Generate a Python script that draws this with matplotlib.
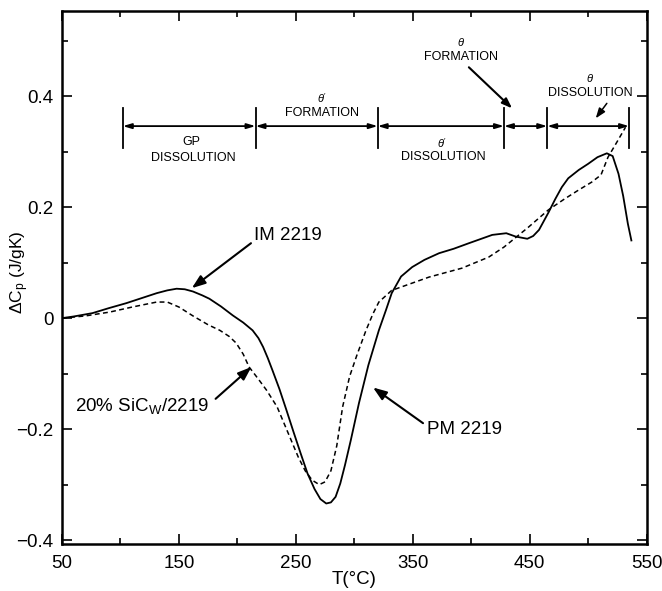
import matplotlib
matplotlib.use("Agg")
import matplotlib.pyplot as plt
from matplotlib.ticker import MultipleLocator

plt.rcParams['font.family'] = ['Liberation Sans', 'DejaVu Sans']
plt.rcParams['mathtext.fontset'] = 'custom'
plt.rcParams['mathtext.rm'] = 'Liberation Sans'
plt.rcParams['mathtext.it'] = 'Liberation Sans:italic'
plt.rcParams['mathtext.bf'] = 'Liberation Sans:bold'

# IM 2219 (solid)
im_T = [50, 60, 76, 90, 105, 118, 131, 140, 148, 155, 162, 170, 176, 186, 196, 205,
        213, 218, 222, 226, 230, 236, 242, 248, 254, 260, 266, 271, 276, 280, 284,
        288, 292, 297, 304, 312, 321, 327, 332, 340, 349.5, 360, 372.5, 385, 398,
        410, 418, 430, 438, 448, 453, 458, 466, 472, 477.5, 483, 492, 500, 508, 516,
        521, 526, 530, 534, 537]
im_cp = [0, 0.003, 0.009, 0.018, 0.027, 0.036, 0.045, 0.050, 0.053, 0.052, 0.048,
         0.041, 0.035, 0.021, 0.005, -0.008, -0.022, -0.036, -0.052, -0.072, -0.094,
         -0.128, -0.166, -0.205, -0.243, -0.280, -0.308, -0.326, -0.334, -0.332,
         -0.322, -0.298, -0.265, -0.220, -0.153, -0.085, -0.022, 0.014, 0.045, 0.075,
         0.092, 0.105, 0.117, 0.125, 0.135, 0.144, 0.150, 0.153, 0.147, 0.143, 0.148,
         0.159, 0.190, 0.215, 0.236, 0.252, 0.267, 0.278, 0.290, 0.297, 0.292, 0.260,
         0.22, 0.17, 0.14]

# 20% SiCw/2219 (dashed)
sic_T = [50, 70, 91, 110, 131, 140, 150, 162, 175, 185, 193, 199, 205, 210, 218, 225,
         234, 240, 246, 252, 258, 264, 270, 275, 280, 285, 290, 296, 302, 310, 316,
         321, 332, 344, 364, 392, 415, 428, 435, 449, 466, 480, 492, 503, 511, 517,
         524, 532]
sic_cp = [0, 0.004, 0.011, 0.020, 0.029, 0.029, 0.020, 0.004, -0.012, -0.022, -0.033,
          -0.045, -0.065, -0.088, -0.110, -0.130, -0.160, -0.190, -0.220, -0.250,
          -0.275, -0.292, -0.300, -0.295, -0.275, -0.230, -0.160, -0.105, -0.068,
          -0.022, 0.008, 0.029, 0.050, 0.059, 0.074, 0.090, 0.110, 0.128, 0.140,
          0.164, 0.195, 0.215, 0.231, 0.245, 0.258, 0.290, 0.315, 0.344]

# Reaction-range bar
bounds = [102, 215.5, 320, 428, 465, 535]
bar_y = 0.346
xticks = [50, 150, 250, 350, 450, 550]
yticks = [-0.4, -0.2, 0, 0.2, 0.4]
ytick_labels = ['\u22120.4', '\u22120.2', '0', '0.2', '0.4']

fig = plt.figure(figsize=(6.62, 5.91), dpi=100)
ax = fig.add_axes([0.0937, 0.0795, 0.883, 0.9015])

ax.plot(im_T, im_cp, color='black', lw=1.3, solid_joinstyle='round')
ax.plot(sic_T, sic_cp, color='black', lw=1.1, linestyle=(0, (3.2, 2.2)))

ax.set_xlim(50, 550)
ax.set_ylim(-0.407, 0.553)
ax.set_xticks(xticks)
ax.xaxis.set_minor_locator(MultipleLocator(50))
ax.set_yticks(yticks)
ax.set_yticklabels(ytick_labels)
ax.yaxis.set_minor_locator(MultipleLocator(0.1))
ax.tick_params(which='both', direction='in', top=True, right=True, labelsize=13.5, width=1.2)
ax.tick_params(which='major', length=7)
ax.tick_params(which='minor', length=4)
ax.tick_params(axis='y', which='major', pad=6)
ax.tick_params(axis='x', which='major', pad=8)
for s in ax.spines.values():
    s.set_linewidth(1.8)

ax.set_xlabel('T(\u00b0C)', fontsize=13.5, labelpad=-1)
ax.set_ylabel(r'$\Delta$C$_\mathrm{p}$ (J/gK)', fontsize=12.5)
ax.yaxis.set_label_coords(-0.053, 0.51)

# bar with ticks and double arrows
for b in bounds:
    ax.plot([b, b], [bar_y - 0.040, bar_y + 0.032], color='black', lw=1.3)
for a, b in zip(bounds[:-1], bounds[1:]):
    ax.annotate('', xy=(b, bar_y), xytext=(a, bar_y),
                arrowprops=dict(arrowstyle='<|-|>,head_length=0.5,head_width=0.15',
                                color='black', lw=1.3, shrinkA=0, shrinkB=0))

lab = dict(ha='center', va='center', fontsize=9)
th = dict(ha='center', va='center', fontsize=8)
ax.text(161, 0.317, 'GP', **lab)
ax.text(162, 0.288, 'DISSOLUTION', **lab)
ax.text(272, 0.396, r"$\theta'$", **th)
ax.text(272, 0.369, 'FORMATION', **lab)
ax.text(375, 0.315, r"$\theta'$", **th)
ax.text(376, 0.290, 'DISSOLUTION', **lab)
ax.text(391, 0.497, r"$\theta$", **th)
ax.text(391, 0.470, 'FORMATION', **lab)
ax.text(502, 0.432, r"$\theta$", **th)
ax.text(502, 0.405, 'DISSOLUTION', **lab)

arr = dict(arrowstyle='-|>,head_length=0.6,head_width=0.22', color='black', lw=1.5,
           shrinkA=0, shrinkB=0)
ax.annotate('', xy=(435, 0.378), xytext=(398, 0.452), arrowprops=arr)
ax.annotate('', xy=(506.5, 0.36), xytext=(516, 0.387),
            arrowprops=dict(arr, lw=1.1))

ax.annotate('IM 2219', xy=(161, 0.054), xytext=(214, 0.148), fontsize=13.5,
            ha='left', va='center', arrowprops=dict(arr, relpos=(0, 0.2)))
ax.annotate(r'20% SiC$_\mathrm{W}$/2219', xy=(212, -0.088), xytext=(61, -0.158),
            fontsize=13.5, ha='left', va='center',
            arrowprops=dict(arr, relpos=(1.05, 0.85)))
ax.annotate('PM 2219', xy=(316, -0.125), xytext=(362, -0.2), fontsize=13.5,
            ha='left', va='center', arrowprops=dict(arr, relpos=(-0.05, 0.85)))

fig.savefig('out.png', dpi=100)
